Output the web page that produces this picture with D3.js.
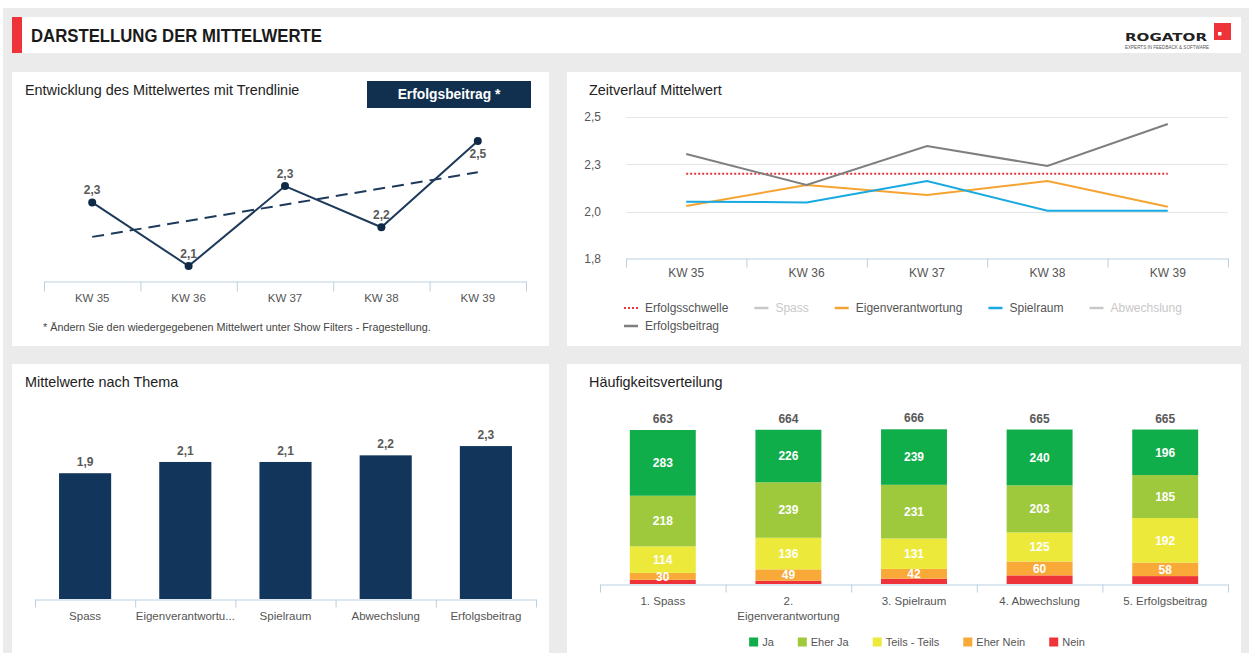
<!DOCTYPE html>
<html>
<head>
<meta charset="utf-8">
<title>Darstellung der Mittelwerte</title>
<style>
body { margin: 0; background: #fff; }
svg { display: block; font-family: "Liberation Sans", Arial, sans-serif; }
.panel-title { font-size: 14.4px; fill: #222; }
.tick-label { font-size: 11.5px; fill: #555; }
.val { font-size: 12px; font-weight: bold; fill: #595959; }
.seg { font-size: 12px; font-weight: bold; fill: #fff; }
.legend { font-size: 12px; fill: #555; }
</style>
</head>
<body>
<svg id="chart" width="1249" height="653"></svg>
<script src="https://cdn.jsdelivr.net/npm/d3@7"></script>
<script>
// --- data ---
var weeks = ["KW 35", "KW 36", "KW 37", "KW 38", "KW 39"];
var erfolgsbeitrag = [2.305, 2.141, 2.347, 2.241, 2.463];
var eigenverantwortung = [2.030, 2.141, 2.088, 2.162, 2.026];
var spielraum = [2.053, 2.049, 2.162, 2.005, 2.005];
var erfolgsschwelle = 2.2;
var timeTicks = [1.75, 2.0, 2.25, 2.5];

var legendNames = ["Erfolgsschwelle", "Spass", "Eigenverantwortung", "Spielraum", "Abwechslung", "Erfolgsbeitrag"];
var legendColors = ["#e8333a", "#c8c8c8", "#f5a431", "#18a9e1", "#c8c8c8", "#7f7f7f"];
var legendMuted = [false, true, false, false, true, false];

var themes = ["Spass", "Eigenverantwortung", "Spielraum", "Abwechslung", "Erfolgsbeitrag"];
var themeMeans = [1.90, 2.07, 2.07, 2.17, 2.31];

var items = ["1. Spass", "2. Eigenverantwortung", "3. Spielraum", "4. Abwechslung", "5. Erfolgsbeitrag"];
var answers = ["Ja", "Eher Ja", "Teils - Teils", "Eher Nein", "Nein"];
var answerColors = ["#10ad4b", "#9ec93c", "#ede93a", "#f9a937", "#ee3439"];
var answerLabelled = [true, true, true, true, false];
var countJa = [283, 226, 239, 240, 196];
var countEherJa = [218, 239, 231, 203, 185];
var countTeils = [114, 136, 131, 125, 192];
var countEherNein = [30, 49, 42, 60, 58];
var countNein = [18, 14, 23, 37, 34];

var svg = d3.select("#chart");
var de = d3.formatLocale({decimal: ",", thousands: ".", grouping: [3], currency: ["", " €"]});
var f1 = de.format(".1f");
var axisColor = "#bcd0e0";
var navy = "#12355b";

// --- layout ---
svg.append("rect").attr("x", 3).attr("y", 8).attr("width", 1246).attr("height", 645).attr("fill", "#ebebeb");

function panel(x, y, w, h) {
  svg.append("rect").attr("x", x).attr("y", y).attr("width", w).attr("height", h).attr("fill", "#fff");
}
panel(12, 17, 1229, 36);
panel(12, 72, 537, 274);
panel(567, 72, 674, 274);
panel(12, 364, 537, 289);
panel(567, 364, 674, 289);

svg.append("rect").attr("x", 12).attr("y", 17).attr("width", 10).attr("height", 36).attr("fill", "#ee3439");
svg.append("text").attr("x", 31).attr("y", 42)
  .attr("font-size", "17.5px").attr("font-weight", "bold").attr("fill", "#1a1a1a")
  .attr("textLength", 291).attr("lengthAdjust", "spacingAndGlyphs")
  .text("DARSTELLUNG DER MITTELWERTE");

// logo
svg.append("text").attr("x", 1125).attr("y", 41)
  .attr("font-family", "DejaVu Sans").attr("font-size", "11px").attr("font-weight", "bold").attr("fill", "#222")
  .attr("textLength", 82).attr("lengthAdjust", "spacingAndGlyphs").text("ROGATOR");
svg.append("text").attr("x", 1125).attr("y", 48.5)
  .attr("font-size", "4.6px").attr("fill", "#555")
  .attr("textLength", 84).attr("lengthAdjust", "spacingAndGlyphs").text("EXPERTS IN FEEDBACK & SOFTWARE");
svg.append("rect").attr("x", 1214).attr("y", 23).attr("width", 17).attr("height", 17).attr("fill", "#ee3439");
svg.append("rect").attr("x", 1218).attr("y", 32).attr("width", 3.5).attr("height", 3.5).attr("fill", "#fff");

function title(x, y, t) {
  svg.append("text").attr("class", "panel-title").attr("x", x).attr("y", y).text(t);
}
title(25, 95, "Entwicklung des Mittelwertes mit Trendlinie");
title(589, 95, "Zeitverlauf Mittelwert");
title(25, 387, "Mittelwerte nach Thema");
title(589, 387, "Häufigkeitsverteilung");

function bandAxis(scale, y, tickLen, padding) {
  var g = svg.append("g").attr("transform", "translate(0," + y + ")")
    .call(d3.axisBottom(scale).tickSize(0).tickPadding(padding));
  g.attr("font-family", null).attr("font-size", null);
  g.select(".domain").attr("stroke", axisColor);
  g.selectAll(".tick text").attr("class", "tick-label");
  var bounds = scale.domain().map(function(d) { return scale(d); }).concat([scale.range()[1]]);
  g.selectAll(".sep").data(bounds).enter().append("line")
    .attr("x1", function(d) { return d + 0.5; }).attr("x2", function(d) { return d + 0.5; })
    .attr("y1", 0).attr("y2", tickLen).attr("stroke", axisColor);
  return g;
}

// --- chart 1: Entwicklung mit Trendlinie ---
svg.append("rect").attr("x", 367).attr("y", 81).attr("width", 164).attr("height", 27).attr("fill", "#11304f");
svg.append("text").attr("x", 449).attr("y", 99).attr("text-anchor", "middle")
  .attr("font-size", "13.8px").attr("font-weight", "bold").attr("fill", "#fff").text("Erfolgsbeitrag *");

var x1 = d3.scaleBand().domain(weeks).range([44, 526]);
var y1 = d3.scaleLinear().domain([2.1, 2.5]).range([282, 126.7]);
function cx1(i) { return x1(weeks[i]) + x1.bandwidth() / 2; }

bandAxis(x1, 281.5, 10, 12);

// linear regression for the trend line
var xs = erfolgsbeitrag.map(function(d, i) { return i; });
var mx = d3.mean(xs), my = d3.mean(erfolgsbeitrag);
var slope = d3.sum(xs, function(i) { return (i - mx) * (erfolgsbeitrag[i] - my); }) /
            d3.sum(xs, function(i) { return (i - mx) * (i - mx); });
var icpt = my - slope * mx;
var n = erfolgsbeitrag.length - 1;

svg.append("line")
  .attr("x1", cx1(0)).attr("y1", y1(icpt))
  .attr("x2", cx1(n)).attr("y2", y1(icpt + slope * n))
  .attr("stroke", "#1d3a5a").attr("stroke-width", 2).attr("stroke-dasharray", "12,7");

var line1 = d3.line().x(function(d, i) { return cx1(i); }).y(function(d) { return y1(d); });
svg.append("path").datum(erfolgsbeitrag).attr("d", line1)
  .attr("fill", "none").attr("stroke", "#1d3a5a").attr("stroke-width", 2);

svg.selectAll(".pt").data(erfolgsbeitrag).enter().append("circle")
  .attr("cx", function(d, i) { return cx1(i); }).attr("cy", function(d) { return y1(d); })
  .attr("r", 4).attr("fill", "#0f2a47");

var maxE = d3.max(erfolgsbeitrag);
svg.selectAll(".pl").data(erfolgsbeitrag).enter().append("text").attr("class", "val")
  .attr("text-anchor", "middle")
  .attr("x", function(d, i) { return cx1(i); })
  .attr("y", function(d) { return d === maxE ? y1(d) + 17 : y1(d) - 8; })
  .text(function(d) { return f1(d); });

svg.append("text").attr("x", 43).attr("y", 331).attr("font-size", "10.8px").attr("fill", "#444")
  .text("* Ändern Sie den wiedergegebenen Mittelwert unter Show Filters - Fragestellung.");

// --- chart 2: Zeitverlauf ---
var x2 = d3.scaleBand().domain(weeks).range([626, 1228]);
var y2 = d3.scaleLinear().domain([1.75, 2.5]).range([259, 117]);
function cx2(i) { return x2(weeks[i]) + x2.bandwidth() / 2; }

svg.selectAll(".grid").data(timeTicks.slice(1)).enter().append("line")
  .attr("x1", 626).attr("x2", 1228)
  .attr("y1", function(d) { return Math.round(y2(d)) + 0.5; })
  .attr("y2", function(d) { return Math.round(y2(d)) + 0.5; })
  .attr("stroke", "#e6e6e6");

svg.selectAll(".ylab").data(timeTicks).enter().append("text").attr("class", "tick-label")
  .attr("x", 601).attr("y", function(d) { return y2(d); }).attr("dy", "0.35em")
  .attr("text-anchor", "end").style("font-size", "12px").text(function(d) { return f1(d); });

var ax2 = bandAxis(x2, 258.5, 9, 10);
ax2.selectAll(".tick text").style("font-size", "12px");

var line2 = d3.line().x(function(d, i) { return cx2(i); }).y(function(d) { return y2(d); });
svg.append("line").attr("x1", cx2(0)).attr("x2", cx2(weeks.length - 1))
  .attr("y1", y2(erfolgsschwelle)).attr("y2", y2(erfolgsschwelle))
  .attr("stroke", legendColors[0]).attr("stroke-width", 2).attr("stroke-dasharray", "2,2");
[[eigenverantwortung, legendColors[2]], [spielraum, legendColors[3]], [erfolgsbeitrag, legendColors[5]]]
  .forEach(function(s) {
    svg.append("path").datum(s[0]).attr("d", line2)
      .attr("fill", "none").attr("stroke", s[1]).attr("stroke-width", 2);
  });

// legend, flowing into rows
var lx = 624, ly = 308, lmax = 1228;
legendNames.forEach(function(name, i) {
  var g = svg.append("g");
  var t = g.append("text").attr("class", "legend").attr("x", 21).attr("y", 0).attr("dy", "0.35em")
    .style("fill", legendMuted[i] ? "#c8c8c8" : "#555").text(name);
  var w = 21 + t.node().getComputedTextLength();
  if (lx + w > lmax) { lx = 624; ly += 18; }
  g.append("line").attr("x1", 0).attr("x2", 14).attr("y1", 0).attr("y2", 0)
    .attr("stroke", legendColors[i]).attr("stroke-width", i === 0 ? 2 : 2.5)
    .attr("stroke-dasharray", i === 0 ? "2,2" : null);
  g.attr("transform", "translate(" + lx + "," + ly + ")");
  lx += w + 26;
});

// --- chart 3: Mittelwerte nach Thema ---
var x3 = d3.scaleBand().domain(themes).range([35, 536]);
var x3b = d3.scaleBand().domain(themes).range([35, 536]).paddingInner(0.48).paddingOuter(0.24);
var y3 = d3.scaleLinear().domain([0, 2.5]).range([599, 433.5]);

svg.selectAll(".bar").data(themeMeans).enter().append("rect")
  .attr("x", function(d, i) { return x3b(themes[i]); })
  .attr("width", x3b.bandwidth())
  .attr("y", function(d) { return y3(d); })
  .attr("height", function(d) { return y3(0) - y3(d); })
  .attr("fill", navy);

svg.selectAll(".bl").data(themeMeans).enter().append("text").attr("class", "val")
  .attr("text-anchor", "middle")
  .attr("x", function(d, i) { return x3b(themes[i]) + x3b.bandwidth() / 2; })
  .attr("y", function(d) { return y3(d) - 7; })
  .text(function(d) { return f1(d); });

var ax3 = bandAxis(x3, 599.5, 8, 12);
ax3.selectAll(".tick text").each(function() {
  var t = d3.select(this), full = t.text(), s = full;
  var maxW = x3.bandwidth() - 1;
  while (this.getComputedTextLength() > maxW && s.length > 1) {
    s = s.slice(0, -1);
    t.text(s + "...");
  }
});

// --- chart 4: Häufigkeitsverteilung ---
var counts = [countJa, countEherJa, countTeils, countEherNein, countNein];
var rows = items.map(function(it, i) {
  var r = {item: it};
  answers.forEach(function(a, k) { r[a] = counts[k][i]; });
  return r;
});
var stackKeys = answers.slice().reverse();
var series = d3.stack().keys(stackKeys)(rows);

var x4 = d3.scaleBand().domain(items).range([600, 1228]);
var x4b = d3.scaleBand().domain(items).range([600, 1228]).paddingInner(0.475).paddingOuter(0.2375);
var y4 = d3.scaleLinear().domain([0, 700]).range([584, 421.4]);
var color4 = d3.scaleOrdinal().domain(answers).range(answerColors);

var sg = svg.selectAll(".ser").data(series).enter().append("g")
  .attr("fill", function(s) { return color4(s.key); });
sg.selectAll("rect").data(function(s) { return s; }).enter().append("rect")
  .attr("x", function(d) { return x4b(d.data.item); })
  .attr("width", x4b.bandwidth())
  .attr("y", function(d) { return y4(d[1]); })
  .attr("height", function(d) { return y4(d[0]) - y4(d[1]); });

series.forEach(function(s) {
  if (!answerLabelled[answers.indexOf(s.key)]) return;
  svg.selectAll(null).data(s).enter().append("text").attr("class", "seg")
    .attr("text-anchor", "middle")
    .attr("x", function(d) { return x4b(d.data.item) + x4b.bandwidth() / 2; })
    .attr("y", function(d) { return (y4(d[0]) + y4(d[1])) / 2; })
    .attr("dy", "0.36em")
    .text(function(d) { return d[1] - d[0]; });
});

var totals = rows.map(function(r) { return d3.sum(answers, function(a) { return r[a]; }); });
svg.selectAll(".tot").data(totals).enter().append("text").attr("class", "val")
  .attr("text-anchor", "middle")
  .attr("x", function(d, i) { return x4b(items[i]) + x4b.bandwidth() / 2; })
  .attr("y", function(d) { return y4(d) - 7; })
  .text(function(d) { return d; });

var ax4 = bandAxis(x4, 584.5, 8, 12);
ax4.selectAll(".tick text").each(function() {
  var t = d3.select(this), words = t.text().split(" ");
  var maxW = x4.bandwidth() * 0.85;
  t.text(null);
  var cur = [];
  var ts = t.append("tspan").attr("x", 0).attr("dy", "0.71em");
  words.forEach(function(w) {
    cur.push(w);
    ts.text(cur.join(" "));
    if (ts.node().getComputedTextLength() > maxW && cur.length > 1) {
      cur.pop();
      ts.text(cur.join(" "));
      cur = [w];
      ts = t.append("tspan").attr("x", 0).attr("dy", "1.35em").text(w);
    }
  });
});

// legend
var lg = svg.append("g");
var px = 0;
answers.forEach(function(a, i) {
  var g = lg.append("g").attr("transform", "translate(" + px + ",0)");
  g.append("rect").attr("x", 0).attr("y", -4.5).attr("width", 9).attr("height", 9).attr("fill", answerColors[i]);
  var t = g.append("text").attr("x", 13).attr("dy", "0.35em").attr("font-size", "11px").attr("fill", "#555").text(a);
  px += 13 + t.node().getComputedTextLength() + 24;
});
px -= 24;
lg.attr("transform", "translate(" + (917 - px / 2) + ",642)");
</script>
</body>
</html>
